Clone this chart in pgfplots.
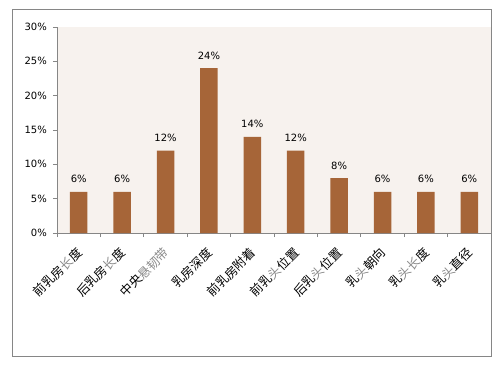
\documentclass[border=0pt]{standalone}
\usepackage{fontspec}
\setmainfont{DejaVu Sans}
\newfontfamily\cjk{Noto Sans CJK SC}
\usepackage{pgfplots}
\pgfplotsset{compat=1.18}
\definecolor{barc}{HTML}{A66538}
\definecolor{bgc}{HTML}{F7F2EE}
\definecolor{axc}{HTML}{868686}
\definecolor{lg}{HTML}{8A8A8A}
\newcommand{\g}[1]{\textcolor{lg}{#1}}
\begin{document}
\begin{tikzpicture}[x=1pt,y=1pt]
\useasboundingbox (0,0) rectangle (503,367);
\draw[color=axc, line width=1.2pt] (12.5,10.5) rectangle (491.5,357.5);
\begin{axis}[
  at={(78.7pt,134pt)}, anchor=origin,
  scale only axis, width=434pt, height=206pt,
  xmin=-0.5, xmax=9.5, ymin=0, ymax=30,
  ybar, bar width=17.5pt,
  axis background/.style={fill=bgc},
  axis lines=left,
  axis line style={-, draw=axc, line width=0.8pt},
  tick style={draw=axc, line width=0.8pt},
  tick align=outside,
  major tick length=4pt,
  ytick={0,5,...,30},
  yticklabel={\pgfmathprintnumber{\tick}\%},
  yticklabel style={font=\fontsize{10}{12}\selectfont, black, inner sep=0pt, xshift=-6pt},
  /pgf/number format/assume math mode=true,
  xtick={0,...,9},
  major x tick style={draw=none},
  minor xtick={-0.5,0.5,...,9.5},
  minor tick length=4pt,
  minor x tick style={draw=axc, line width=0.8pt},
  xticklabels={{前乳房\g{长}度},{后乳房\g{长}度},{中央\g{悬韧带}},{乳房深度},{前乳房附着},{前乳\g{头}位置},{后乳\g{头}位置},{乳\g{头}朝向},{乳\g{头长}度},{乳\g{头}直径}},
  xticklabel style={font=\cjk\fontsize{12.5}{14}\selectfont, black, xshift=1pt, yshift=-13pt, rotate=45, anchor=east, inner sep=0pt},
  nodes near coords={\pgfmathprintnumber{\pgfplotspointmeta}\%},
  nodes near coords style={font=\fontsize{10}{12}\selectfont, black, anchor=base, inner sep=0pt, yshift=9pt},
  clip=false,
]
\addplot[fill=barc, draw=none] coordinates {(0,6) (1,6) (2,12) (3,24) (4,14) (5,12) (6,8) (7,6) (8,6) (9,6)};
\end{axis}
\end{tikzpicture}
\end{document}
